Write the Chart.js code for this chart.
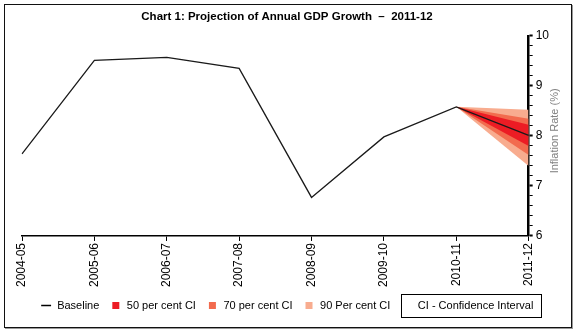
<!DOCTYPE html>
<html>
<head>
<meta charset="utf-8">
<script src="https://cdn.jsdelivr.net/npm/chart.js@4/dist/chart.umd.min.js"></script>
<style>
  body { margin: 0; background: #fff; }
  #frame { position: absolute; left: 4px; top: 4px; width: 566px; height: 322px; border: 1px solid #111; box-shadow: 1px 1px 0 #999; }
  #wrap { position: absolute; left: 0; top: 0; width: 576px; height: 333px; }
</style>
</head>
<body>
<div id="frame"></div>
<div id="wrap"><canvas id="chart1"></canvas></div>
<script>
const years = ['2004-05', '2005-06', '2006-07', '2007-08', '2008-09', '2009-10', '2010-11', '2011-12'];
const baseline = [7.64, 9.51, 9.57, 9.35, 6.77, 7.98, 8.58, 8.01];
// fan bands start at the last actual value (2010-11)
const ci50Hi = [null, null, null, null, null, null, 8.58, 8.22];
const ci50Lo = [null, null, null, null, null, null, 8.58, 7.80];
const ci70Hi = [null, null, null, null, null, null, 8.58, 8.34];
const ci70Lo = [null, null, null, null, null, null, 8.58, 7.62];
const ci90Hi = [null, null, null, null, null, null, 8.58, 8.52];
const ci90Lo = [null, null, null, null, null, null, 8.58, 7.40];

const red50 = '#ec1c24';
const red70 = '#f26b4e';
const red90 = '#f8ac8f';
const FONT = 'Liberation Sans';

function band(data, fill, color) {
    return {
        data: data,
        fill: fill,
        backgroundColor: color,
        borderWidth: 0,
        pointRadius: 0,
        tension: 0
    };
}

const yTitle = {
    id: 'yTitle',
    afterDraw(chart) {
        const ctx = chart.ctx;
        const area = chart.chartArea;
        const y = chart.scales.y;
        ctx.save();
        ctx.translate(y.right + 3, (area.top + area.bottom) / 2 - 5);
        ctx.rotate(-Math.PI / 2);
        ctx.font = `11px "${FONT}"`;
        ctx.fillStyle = '#808080';
        ctx.textAlign = 'center';
        ctx.textBaseline = 'middle';
        ctx.fillText('Inflation Rate (%)', 0, 0);
        ctx.restore();
    }
};

// box round the last legend entry
const ciBox = {
    id: 'ciBox',
    afterDraw(chart) {
        const boxes = chart.legend.legendHitBoxes;
        if (!boxes || !boxes.length) return;
        const b = boxes[boxes.length - 1];
        const ctx = chart.ctx;
        ctx.save();
        ctx.strokeStyle = '#000';
        ctx.lineWidth = 1;
        ctx.strokeRect(Math.round(b.left) + 0.5, Math.round(b.top - 6) + 0.5, Math.round(b.width + 8), Math.round(b.height + 12));
        ctx.restore();
    }
};

new Chart('chart1', {
    type: 'line',
    data: {
        labels: years,
        datasets: [
            { label: 'Baseline', data: baseline, borderColor: '#1a1a1a', borderWidth: 1.3, pointRadius: 0, fill: false, tension: 0 },
            band(ci50Hi, '+1', red50),
            band(ci50Lo, false, red50),
            band(ci70Hi, '+1', red70),
            band(ci70Lo, false, red70),
            band(ci90Hi, '+1', red90),
            band(ci90Lo, false, red90)
        ]
    },
    options: {
        responsive: true,
        maintainAspectRatio: false,
        animation: false,
        layout: { padding: { left: 22, right: 24, top: 4, bottom: 12 } },
        plugins: {
            title: {
                display: true,
                text: 'Chart 1: Projection of Annual GDP Growth  \u2013  2011-12',
                color: '#000',
                font: { family: FONT, size: 11.5, weight: 'bold' },
                padding: { top: 6, bottom: 12 }
            },
            tooltip: { enabled: false },
            legend: {
                position: 'bottom',
                labels: {
                    color: '#000',
                    font: { family: FONT, size: 11 },
                    usePointStyle: true,
                    boxHeight: 7,
                    padding: 11,
                    generateLabels: () => [
                        { text: 'Baseline', pointStyle: 'line', strokeStyle: '#000', fillStyle: '#000', lineWidth: 1.5 },
                        { text: '50 per cent CI', pointStyle: 'rect', fillStyle: red50, strokeStyle: red50, lineWidth: 0 },
                        { text: '70 per cent CI', pointStyle: 'rect', fillStyle: red70, strokeStyle: red70, lineWidth: 0 },
                        { text: '90 Per cent CI', pointStyle: 'rect', fillStyle: red90, strokeStyle: red90, lineWidth: 0 },
                        { text: 'CI - Confidence Interval', pointStyle: 'rect', fillStyle: 'rgba(0,0,0,0)', strokeStyle: 'rgba(0,0,0,0)', lineWidth: 0 }
                    ]
                }
            }
        },
        scales: {
            x: {
                offset: false,
                grid: { display: true, drawOnChartArea: false, drawTicks: true, tickLength: 5, color: '#000' },
                border: { display: true, color: '#000', width: 1.5 },
                ticks: {
                    color: '#000',
                    font: { family: FONT, size: 12 },
                    minRotation: 90,
                    maxRotation: 90,
                    padding: 2,
                    autoSkip: false
                }
            },
            y: {
                position: 'right',
                min: 6,
                max: 10,
                grid: {
                    display: true,
                    drawOnChartArea: false,
                    drawTicks: true,
                    tickLength: 4,
                    color: '#000',
                    tickWidth: ctx => Math.abs(ctx.tick.value - Math.round(ctx.tick.value)) < 1e-6 ? 2 : 1
                },
                border: { display: true, color: '#000', width: 2.5 },
                ticks: {
                    stepSize: 0.2,
                    autoSkip: false,
                    color: '#000',
                    padding: 3,
                    font: { family: FONT, size: 12 },
                    callback: v => Math.abs(v - Math.round(v)) < 1e-6 ? Math.round(v) : ''
                }
            }
        }
    },
    plugins: [yTitle, ciBox]
});
</script>
</body>
</html>
